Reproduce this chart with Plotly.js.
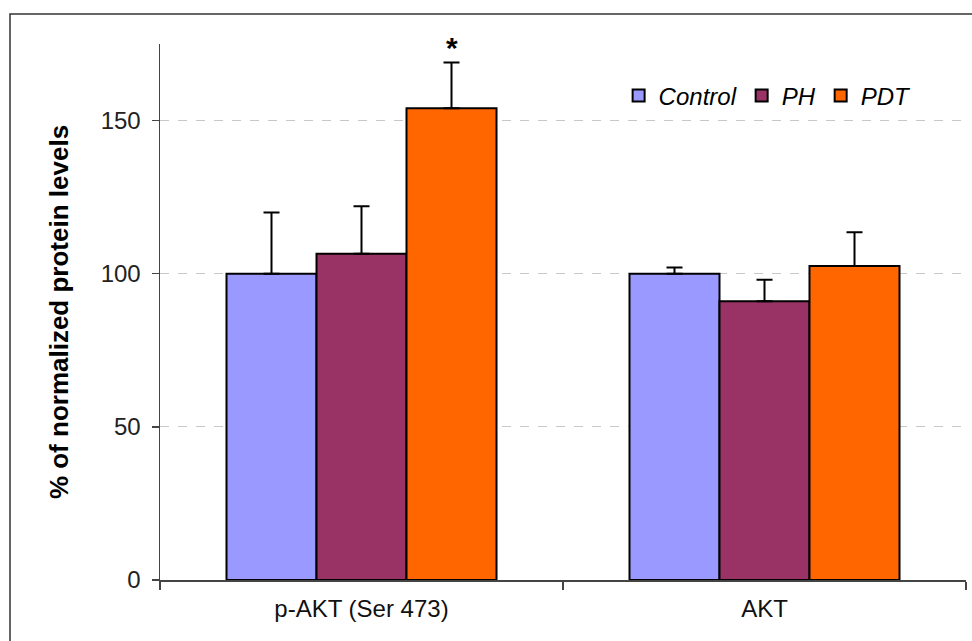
<!DOCTYPE html>
<html>
<head>
<meta charset="utf-8">
<script src="https://cdn.plot.ly/plotly-3.0.1.min.js"></script>
<style>html,body{margin:0;padding:0;background:#fff;}#chart{width:972px;height:641px;}</style>
</head>
<body>
<div id="chart"></div>
<script>
const categories = ['p-AKT (Ser 473)', 'AKT'];
const seriesNames = ['Control', 'PH', 'PDT'];
const controlValues = [100, 100];
const controlErrors = [20, 2];
const phValues = [106.5, 91];
const phErrors = [15.5, 7];
const pdtValues = [154, 102.5];
const pdtErrors = [15, 11];
const yTicks = [0, 50, 100, 150];
const significance = [{category: 0, series: 2, label: '*'}];

const colors = ['#9999FF', '#993366', '#FF6600'];
const values = [controlValues, phValues, pdtValues];
const errors = [controlErrors, phErrors, pdtErrors];
const bargap = 0.33;

const traces = seriesNames.map((name, i) => ({
  type: 'bar',
  name: name,
  x: categories,
  y: values[i],
  marker: {color: colors[i], line: {color: '#000', width: 2}},
  error_y: {type: 'data', array: errors[i], symmetric: false, arrayminus: errors[i].map(() => 0),
            color: '#000', thickness: 2, width: 8},
  hoverinfo: 'skip'
}));

const barW = (1 - bargap) / seriesNames.length;
const annotations = significance.map(s => ({
  x: s.category + (s.series - 1) * barW,
  y: values[s.series][s.category] + errors[s.series][s.category],
  xref: 'x', yref: 'y',
  text: s.label, showarrow: false, yanchor: 'bottom', yshift: -4,
  font: {family: 'Liberation Sans, Arial, sans-serif', size: 30, color: '#000', weight: 'bold'}
}));

const layout = {
  width: 972, height: 641,
  margin: {l: 160, r: 6, t: 44, b: 61},
  paper_bgcolor: '#fff', plot_bgcolor: '#fff',
  barmode: 'group', bargap: bargap, bargroupgap: 0,
  showlegend: true,
  legend: {orientation: 'h', x: 0.569, xanchor: 'left', y: 0.903, yanchor: 'middle',
           font: {family: 'Liberation Sans, Arial, sans-serif', size: 24, color: '#000', style: 'italic'},
           bgcolor: 'rgba(0,0,0,0)', itemwidth: 30, tracegroupgap: 0},
  font: {family: 'Liberation Sans, Arial, sans-serif', size: 23, color: '#222'},
  xaxis: {type: 'category', showline: true, linecolor: '#444', linewidth: 1.5,
          ticks: 'outside', tickson: 'boundaries', ticklen: 8, tickcolor: '#444', tickwidth: 1.5,
          ticklabelstandoff: 7,
          tickfont: {size: 24, color: '#111'}, showgrid: false, zeroline: false, fixedrange: true},
  yaxis: {range: [0, 175], tickvals: yTicks, ticktext: yTicks.map(String),
          showline: true, linecolor: '#444', linewidth: 1.5,
          ticks: 'outside', ticklen: 7, tickcolor: '#444', tickwidth: 1.5,
          ticklabelstandoff: 6,
          tickfont: {size: 24, color: '#222'},
          showgrid: true, gridcolor: '#c8c8c8', griddash: 'dash', gridwidth: 1, zeroline: false,
          title: {text: '% of normalized protein levels', standoff: 24,
                  font: {size: 26, color: '#000', weight: 'bold'}}},
  annotations: annotations,
  shapes: [{type: 'rect', xref: 'paper', yref: 'paper',
            x0: (10 - 160) / 806, x1: 1.2, y0: -0.3, y1: (580 - 14) / 536,
            line: {color: '#333', width: 1.5}, fillcolor: 'rgba(0,0,0,0)', layer: 'below'}]
};

Plotly.newPlot('chart', traces, layout, {displayModeBar: false, staticPlot: true});
</script>
</body>
</html>
